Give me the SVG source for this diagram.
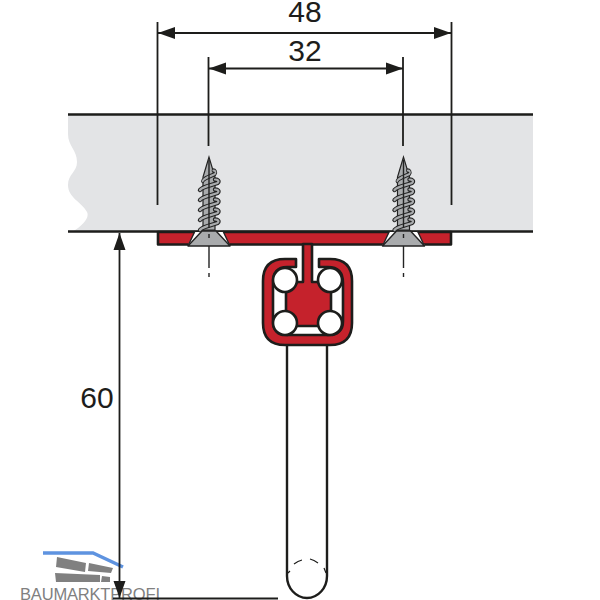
<svg xmlns="http://www.w3.org/2000/svg" xmlns:xlink="http://www.w3.org/1999/xlink" width="600" height="600" viewBox="0 0 600 600">
<style>
.dim{fill:none;stroke:#1d1d1b;stroke-width:1.8}
.edge{fill:none;stroke:#1d1d1b;stroke-width:2.6}
.num{font-family:"Liberation Sans",Arial,sans-serif;font-size:30px;fill:#1d1d1b;text-anchor:middle}
.red{fill:#c5222c;stroke:#1d1d1b;stroke-width:2.6;stroke-linejoin:round}
.ball{fill:#fff;stroke:#1d1d1b;stroke-width:2.6}
.thO{fill:none;stroke:#232323;stroke-width:4.400;stroke-linecap:round}
.thI{fill:none;stroke:#a9abad;stroke-width:2.200;stroke-linecap:round}
.logo{fill:#808080}
</style>
<defs>
<marker id="ah" markerUnits="userSpaceOnUse" markerWidth="18" markerHeight="13" refX="17" refY="6.500" orient="auto-start-reverse" viewBox="0 0 18 13"><path d="M0 .5 L17 6.500 L0 12.500 Z" fill="#1d1d1b"/></marker>
<path id="th" d="M-9 2 C-6 -2 4 -3 8.500 -5 C10.500 -7 9 -8.500 6 -8.500"/>
<g id="screw">
<path d="M0 -75 L-6 -55 L-6 -2 L6 -2 L6 -55 Z" fill="#a9abad" stroke="#232323" stroke-width="1.200"/>
<path d="M-14 0 L14 0 L21 13 L-21 13 Z" fill="#fff"/>
<path d="M-7 -1 L7 -1 L21 14 L-21 14 Z" fill="#a9abad" stroke="#232323" stroke-width="1.400" stroke-linejoin="round"/>
<path d="M-14 -1 L-21 14 M14 -1 L21 14" stroke="#232323" stroke-width="1.400" fill="none"/>
<g class="thO"><use xlink:href="#th" transform="translate(0,-53) scale(.7,1)"/><use xlink:href="#th" transform="translate(0,-44)"/><use xlink:href="#th" transform="translate(0,-34)"/><use xlink:href="#th" transform="translate(0,-24)"/><use xlink:href="#th" transform="translate(0,-14)"/><use xlink:href="#th" transform="translate(0,-4)"/></g>
<g class="thI"><use xlink:href="#th" transform="translate(0,-53) scale(.7,1)"/><use xlink:href="#th" transform="translate(0,-44)"/><use xlink:href="#th" transform="translate(0,-34)"/><use xlink:href="#th" transform="translate(0,-24)"/><use xlink:href="#th" transform="translate(0,-14)"/><use xlink:href="#th" transform="translate(0,-4)"/></g>
<path d="M0 -72 V-4 M0 2 V6 M0 14 V36 M0 41 V45" stroke="#232323" stroke-width="1.400" fill="none"/>
</g>
</defs>
<rect width="600" height="600" fill="#fff"/>

<g id="panel">
<path d="M68 114 H533 V232 H72 C82 226 90 218 87 212 C82 202 68 198 68 185 C68 174 77 172 77 162 C77 150 68 146 68 134 Z" fill="#e3e4e6"/>
<path class="edge" d="M68 114.500 H533 M68 231.500 H533"/>
</g>

<g id="logo">
<path d="M43 553 H93 L123 567" fill="none" stroke="#5e93e0" stroke-width="3.500"/>
<path class="logo" d="M57 557 L86 563 L85 572 L56 567 Z M89 563 L113 568 L111 573 L88 571 Z M55 573 L100 575 L100 582 L56 582 Z M102 576 L110 577 L110 582 L101 582 Z"/>
<text x="20" y="599.500" font-family="'Liberation Sans',Arial,sans-serif" font-size="16.500" fill="#808080" textLength="140" lengthAdjust="spacing">BAUMARKTPROFI</text>
</g>

<g id="rail">
<path d="M287 340 V576 A20 22 0 0 0 327 576 V340" fill="#fff" stroke="#1d1d1b" stroke-width="2.400"/>
<path d="M294 564 Q298 561 302 560 M310 559 Q314 560 318 563 M288 573 L290 571 M326 573 L324 568" fill="none" stroke="#1d1d1b" stroke-width="1.200"/>
</g>

<g id="plate">
<rect class="red" x="158" y="232" width="293" height="12.500"/>
</g>

<g id="profile">
<path class="red" d="M296 259 H285 Q263 259 263 281 V323 Q263 345 285 345 H330 Q352 345 352 323 V281 Q352 259 330 259 H319 V267 H328 Q343 267 343 283 V321 Q343 335 328 335 H287 Q273 335 273 321 V283 Q273 267 287 267 H296 Z"/>
<path class="red" d="M303 244 H312 V282 H331 V326 H286 V282 H303 Z"/>
<circle class="ball" cx="285" cy="280" r="12"/>
<circle class="ball" cx="330" cy="280" r="12"/>
<circle class="ball" cx="285" cy="323" r="12"/>
<circle class="ball" cx="330" cy="323" r="12"/>
</g>

<g id="screw-left"><use xlink:href="#screw" transform="translate(209,232)"/></g>
<g id="screw-right"><use xlink:href="#screw" transform="translate(403.500,232)"/></g>

<g id="connectors">
<path class="dim" d="M157.500 22 V205 M451.500 22 V205"/>
<path class="dim" d="M208.500 57 V146 M403 57 V146"/>
<path class="dim" d="M158 33 H451" marker-start="url(#ah)" marker-end="url(#ah)"/>
<path class="dim" d="M209 68.500 H403" marker-start="url(#ah)" marker-end="url(#ah)"/>
<path class="dim" d="M119.500 233 V598" marker-start="url(#ah)" marker-end="url(#ah)"/>
<path class="dim" d="M113 598.500 H278"/>
</g>

<g id="labels">
<text class="num" x="305" y="22">48</text>
<text class="num" x="305" y="61">32</text>
<text class="num" x="97" y="408">60</text>
</g>
</svg>
